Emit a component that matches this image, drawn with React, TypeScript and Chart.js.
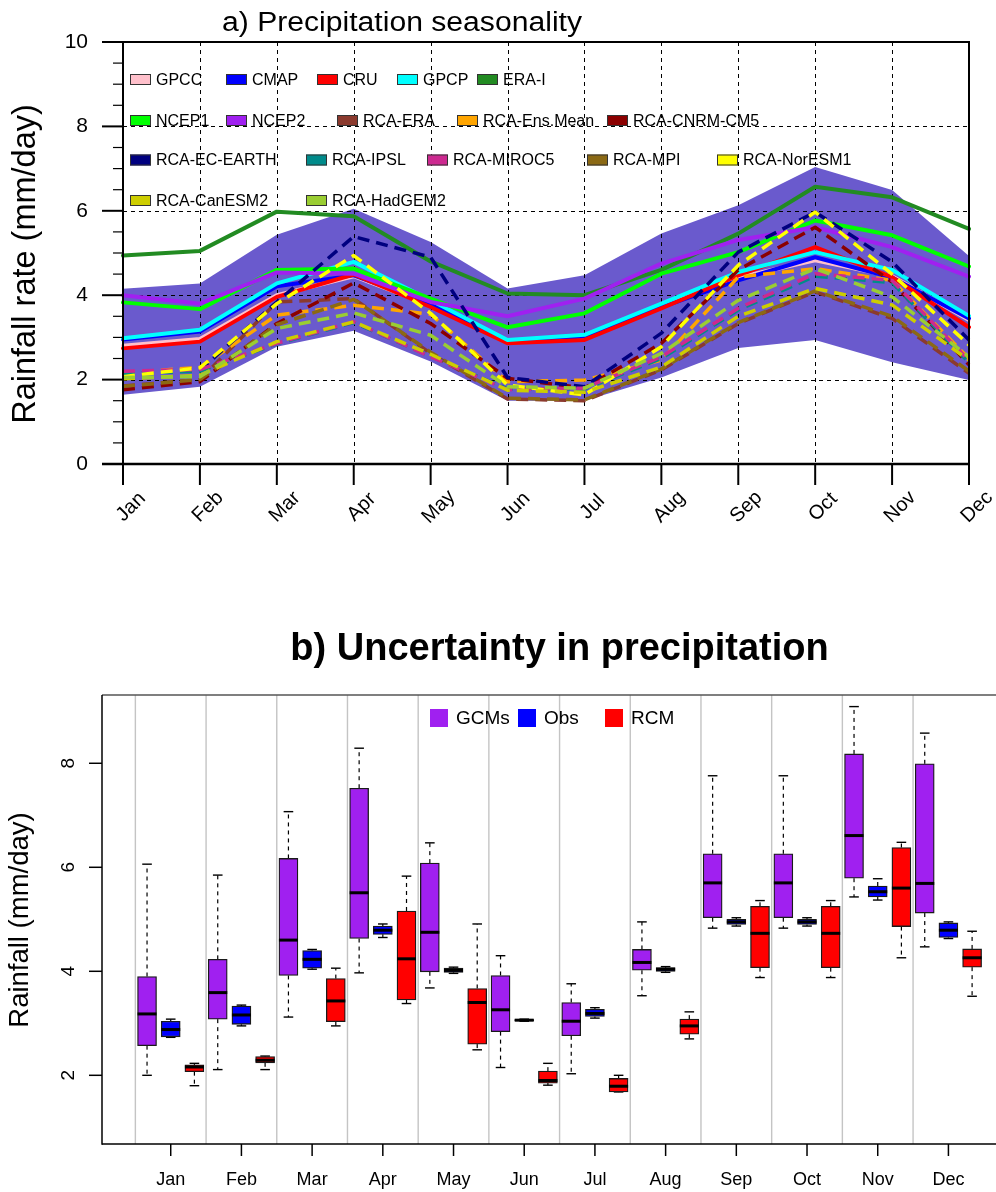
import React, { useEffect, useRef } from "react";
import { Chart, registerables } from "chart.js";

Chart.register(...registerables);

const FONT = '"Liberation Sans", Arial, Helvetica, sans-serif';

// ---------------- Panel a) data ----------------
const MONTHS = ["Jan", "Feb", "Mar", "Apr", "May", "Jun", "Jul", "Aug", "Sep", "Oct", "Nov", "Dec"];
const TOP_Y_TICKS = [0, 2, 4, 6, 8, 10];
const TOP_Y_GRID = [2, 4, 6, 8];

const ENSEMBLE_MAX = [4.15, 4.28, 5.43, 6.05, 5.26, 4.16, 4.47, 5.46, 6.13, 7.04, 6.49, 4.93];
const ENSEMBLE_MIN = [1.64, 1.83, 2.78, 3.16, 2.43, 1.5, 1.5, 2.05, 2.75, 2.94, 2.41, 1.99];

const GPCC = [2.8, 2.96, 4.0, 4.45, 3.76, 2.9, 2.98, 3.72, 4.42, 4.83, 4.45, 3.41];
const CMAP = [2.95, 3.14, 4.21, 4.47, 3.8, 2.92, 3.02, 3.72, 4.35, 4.9, 4.42, 3.45];
const CRU = [2.74, 2.9, 3.96, 4.49, 3.72, 2.86, 2.94, 3.69, 4.47, 5.14, 4.43, 3.24];
const GPCP = [2.98, 3.18, 4.28, 4.79, 3.88, 2.94, 3.06, 3.8, 4.55, 5.02, 4.6, 3.51];
const ERA_I = [4.94, 5.05, 5.98, 5.87, 4.8, 4.04, 4.0, 4.6, 5.46, 6.57, 6.32, 5.57];
const NCEP1 = [3.83, 3.67, 4.6, 4.63, 3.92, 3.24, 3.57, 4.51, 5.02, 5.77, 5.42, 4.68];
const NCEP2 = [4.0, 3.8, 4.54, 4.51, 3.84, 3.5, 3.92, 4.75, 5.31, 5.61, 5.14, 4.44];
const RCA_ERA = [1.85, 2.0, 3.84, 3.92, 2.62, 1.54, 1.5, 2.23, 3.33, 4.08, 3.45, 2.15];
const RCA_ENS_MEAN = [2.16, 2.29, 3.53, 3.76, 3.55, 1.95, 1.99, 2.46, 4.43, 4.63, 4.35, 2.5];
const RCA_CNRM_CM5 = [1.76, 1.95, 3.33, 4.29, 3.33, 2.03, 1.8, 2.86, 4.6, 5.61, 4.31, 2.35];
const RCA_EC_EARTH = [2.14, 2.22, 3.84, 5.39, 4.9, 2.05, 1.83, 3.1, 5.02, 5.97, 4.79, 2.94];
const RCA_IPSL = [2.15, 2.2, 2.85, 3.35, 2.55, 1.78, 1.78, 2.5, 3.65, 4.45, 4.3, 2.4];
const RCA_MIROC5 = [2.2, 2.24, 2.86, 3.37, 2.54, 1.76, 1.8, 2.54, 3.69, 4.51, 4.35, 2.45];
const RCA_MPI = [1.84, 2.0, 3.3, 3.9, 2.65, 1.56, 1.52, 2.25, 3.35, 4.1, 3.5, 2.2];
const RCA_NORESM1 = [2.07, 2.28, 3.8, 4.94, 3.57, 1.87, 1.64, 2.78, 4.71, 5.97, 4.5, 2.82];
const RCA_CANESM2 = [2.02, 2.1, 2.9, 3.37, 2.6, 1.75, 1.7, 2.3, 3.5, 4.16, 3.77, 2.46];
const RCA_HADGEM2 = [2.05, 2.07, 3.21, 3.58, 3.05, 1.83, 1.8, 2.62, 3.88, 4.63, 3.96, 2.54];

const TOP_SERIES = [
  { label: "GPCC", color: "#FFC0CB", values: GPCC, dashed: false },
  { label: "CMAP", color: "#0000FF", values: CMAP, dashed: false },
  { label: "CRU", color: "#FF0000", values: CRU, dashed: false },
  { label: "GPCP", color: "#00FFFF", values: GPCP, dashed: false },
  { label: "ERA-I", color: "#228B22", values: ERA_I, dashed: false },
  { label: "NCEP1", color: "#00FF00", values: NCEP1, dashed: false },
  { label: "NCEP2", color: "#A020F0", values: NCEP2, dashed: false },
  { label: "RCA-ERA", color: "#8B3A2E", values: RCA_ERA, dashed: true },
  { label: "RCA-Ens.Mean", color: "#FFA500", values: RCA_ENS_MEAN, dashed: true },
  { label: "RCA-CNRM-CM5", color: "#8B0000", values: RCA_CNRM_CM5, dashed: true },
  { label: "RCA-EC-EARTH", color: "#000080", values: RCA_EC_EARTH, dashed: true },
  { label: "RCA-IPSL", color: "#008B8B", values: RCA_IPSL, dashed: true },
  { label: "RCA-MIROC5", color: "#CD2990", values: RCA_MIROC5, dashed: true },
  { label: "RCA-MPI", color: "#8B6914", values: RCA_MPI, dashed: true },
  { label: "RCA-NorESM1", color: "#FFFF00", values: RCA_NORESM1, dashed: true },
  { label: "RCA-CanESM2", color: "#CDCD00", values: RCA_CANESM2, dashed: true },
  { label: "RCA-HadGEM2", color: "#9ACD32", values: RCA_HADGEM2, dashed: true },
];

// ---------------- Panel b) data ----------------
const BOX_Y_TICKS = [2, 4, 6, 8];

const GCM_MIN = [2.0, 2.11, 3.12, 3.97, 3.68, 2.15, 2.03, 3.53, 4.83, 4.83, 5.43, 4.47];
const GCM_Q1 = [2.57, 3.08, 3.92, 4.63, 3.99, 2.84, 2.76, 4.02, 5.03, 5.03, 5.79, 5.12];
const GCM_MED = [3.18, 3.59, 4.6, 5.51, 4.75, 3.26, 3.04, 4.17, 5.7, 5.7, 6.61, 5.69];
const GCM_Q3 = [3.9, 4.23, 6.17, 7.52, 6.08, 3.92, 3.4, 4.42, 6.26, 6.26, 8.18, 7.99];
const GCM_MAX = [6.06, 5.85, 7.07, 8.29, 6.47, 4.3, 3.76, 4.95, 7.76, 7.76, 9.09, 8.58];

const OBS_MIN = [2.73, 2.95, 4.04, 4.65, 3.96, 3.04, 3.1, 3.98, 4.87, 4.87, 5.37, 4.63];
const OBS_Q1 = [2.74, 2.98, 4.06, 4.71, 3.98, 3.05, 3.13, 4.0, 4.9, 4.9, 5.43, 4.65];
const OBS_MED = [2.88, 3.16, 4.23, 4.79, 4.02, 3.06, 3.19, 4.04, 4.95, 4.95, 5.53, 4.79];
const OBS_Q3 = [3.04, 3.33, 4.4, 4.87, 4.06, 3.07, 3.27, 4.07, 5.0, 5.0, 5.64, 4.93];
const OBS_MAX = [3.08, 3.35, 4.42, 4.91, 4.08, 3.08, 3.3, 4.09, 5.03, 5.03, 5.78, 4.95];

const RCM_MIN = [1.8, 2.11, 2.95, 3.38, 2.49, 1.81, 1.68, 2.7, 3.88, 3.88, 4.26, 3.52];
const RCM_Q1 = [2.07, 2.24, 3.03, 3.45, 2.6, 1.85, 1.68, 2.79, 4.07, 4.07, 4.86, 4.08];
const RCM_MED = [2.16, 2.29, 3.43, 4.24, 3.4, 1.9, 1.79, 2.95, 4.73, 4.73, 5.6, 4.26];
const RCM_Q3 = [2.2, 2.36, 3.86, 5.16, 3.67, 2.08, 1.94, 3.08, 5.25, 5.25, 6.38, 4.43];
const RCM_MAX = [2.23, 2.37, 4.06, 5.83, 4.91, 2.23, 2.0, 3.22, 5.36, 5.36, 6.48, 4.77];

const BOX_GROUPS = [
  { label: "GCMs", color: "#A020F0", offset: -0.335, min: GCM_MIN, q1: GCM_Q1, med: GCM_MED, q3: GCM_Q3, max: GCM_MAX },
  { label: "Obs", color: "#0000FF", offset: 0, min: OBS_MIN, q1: OBS_Q1, med: OBS_MED, q3: OBS_Q3, max: OBS_MAX },
  { label: "RCM", color: "#FF0000", offset: 0.335, min: RCM_MIN, q1: RCM_Q1, med: RCM_MED, q3: RCM_Q3, max: RCM_MAX },
];

// ---------------- layout (pixels) ----------------
const W = 996;
const TOP_H = 560;
const BOT_H = 632;
const TOP_LEGEND_X = [130, 226, 317, 397, 477, 130, 226, 337, 457, 607, 130, 306, 427, 587, 717, 130, 306];
const TOP_LEGEND_ROW = [0, 0, 0, 0, 0, 1, 1, 1, 1, 1, 2, 2, 2, 2, 2, 3, 3];
const TOP_LEGEND_ROW_Y = [79.5, 120.5, 160, 200.5];
const BOT_LEGEND_X = [430, 518, 605];
const BOX_W = 19;

function drawText(
  ctx: CanvasRenderingContext2D,
  str: string,
  x: number,
  y: number,
  o: { size: number; weight?: string; align?: CanvasTextAlign; baseline?: CanvasTextBaseline; rotate?: number; width?: number; color?: string }
) {
  ctx.save();
  ctx.font = `${o.weight || "normal"} ${o.size}px ${FONT}`;
  ctx.fillStyle = o.color || "#000";
  ctx.textAlign = o.align || "center";
  ctx.textBaseline = o.baseline || "alphabetic";
  ctx.translate(x, y);
  if (o.rotate) ctx.rotate(o.rotate);
  if (o.width) {
    const w = ctx.measureText(str).width;
    ctx.scale(o.width / w, 1);
  }
  ctx.fillText(str, 0, 0);
  ctx.restore();
}

function seg(ctx: CanvasRenderingContext2D, x1: number, y1: number, x2: number, y2: number) {
  ctx.beginPath();
  ctx.moveTo(x1, y1);
  ctx.lineTo(x2, y2);
  ctx.stroke();
}

const topDecor = {
  id: "topDecor",
  beforeDatasetsDraw(chart: any) {
    const { ctx, chartArea: ca, scales } = chart;
    const x = scales.x;
    const y = scales.y;
    ctx.save();
    ctx.strokeStyle = "#000";
    ctx.lineWidth = 1;
    ctx.setLineDash([4, 4]);
    for (let i = 1; i < MONTHS.length - 1; i++) {
      const px = Math.round(x.getPixelForValue(i)) + 0.5;
      seg(ctx, px, ca.top, px, ca.bottom);
    }
    for (const v of TOP_Y_GRID) {
      const py = Math.round(y.getPixelForValue(v)) + 0.5;
      seg(ctx, ca.left, py, ca.right, py);
    }
    ctx.restore();
  },
  afterDraw(chart: any) {
    const { ctx, chartArea: ca, scales } = chart;
    const x = scales.x;
    const y = scales.y;
    ctx.save();
    ctx.strokeStyle = "#000";
    ctx.setLineDash([]);
    // frame
    ctx.lineWidth = 2;
    seg(ctx, ca.left, ca.top, ca.right + 1, ca.top);
    seg(ctx, ca.right, ca.top, ca.right, ca.bottom);
    seg(ctx, ca.left, ca.top, ca.left, ca.bottom);
    ctx.lineWidth = 2.5;
    seg(ctx, ca.left - 21, ca.bottom, ca.right + 1, ca.bottom);
    // y ticks
    ctx.lineWidth = 2;
    for (const v of TOP_Y_TICKS) {
      const py = y.getPixelForValue(v);
      seg(ctx, ca.left - 21, py, ca.left, py);
      drawText(ctx, String(v), ca.left - 35, py, { size: 21, align: "right", baseline: "middle" });
    }
    ctx.lineWidth = 1.2;
    const ymax = TOP_Y_TICKS[TOP_Y_TICKS.length - 1];
    for (let v = 0.5; v < ymax; v += 0.5) {
      if (v % 2 === 0) continue;
      const py = y.getPixelForValue(v);
      seg(ctx, ca.left - 10, py, ca.left, py);
    }
    // x ticks & labels
    ctx.lineWidth = 2;
    MONTHS.forEach((m, i) => {
      const px = x.getPixelForValue(i);
      seg(ctx, px, ca.bottom, px, ca.bottom + 21);
      drawText(ctx, m, px + 8, ca.bottom + 43, { size: 20, baseline: "middle", rotate: -Math.PI / 4 });
    });
    // legend
    TOP_SERIES.forEach((s, i) => {
      const lx = TOP_LEGEND_X[i];
      const ly = TOP_LEGEND_ROW_Y[TOP_LEGEND_ROW[i]];
      ctx.fillStyle = s.color;
      ctx.fillRect(lx, ly - 5.5, 21, 11);
      ctx.lineWidth = 1;
      ctx.strokeStyle = "#333";
      ctx.strokeRect(lx + 0.5, ly - 5.5 + 0.5, 20, 10);
      drawText(ctx, s.label, lx + 26, ly + 1, { size: 16, align: "left", baseline: "middle" });
    });
    // title and axis title
    drawText(ctx, "a) Precipitation seasonality", 402, 31, { size: 27, width: 360 });
    drawText(ctx, "Rainfall rate (mm/day)", 35, 264, { size: 32.5, rotate: -Math.PI / 2 });
    ctx.restore();
  },
};

const bottomDecor = {
  id: "bottomDecor",
  beforeDatasetsDraw(chart: any) {
    const { ctx, chartArea: ca, scales } = chart;
    const x = scales.x;
    const y = scales.y;
    ctx.save();
    // grey separators between months
    ctx.strokeStyle = "#C4C4C4";
    ctx.lineWidth = 1.4;
    for (let i = 0; i < MONTHS.length; i++) {
      const px = x.getPixelForValue(i + 0.5);
      seg(ctx, px, ca.top, px, ca.bottom);
    }
    // whiskers
    ctx.strokeStyle = "#000";
    BOX_GROUPS.forEach((g) => {
      MONTHS.forEach((_, i) => {
        const cx = x.getPixelForValue(i + 1 + g.offset);
        const yMax = y.getPixelForValue(g.max[i]);
        const yMin = y.getPixelForValue(g.min[i]);
        const yQ3 = y.getPixelForValue(g.q3[i]);
        const yQ1 = y.getPixelForValue(g.q1[i]);
        ctx.lineWidth = 1.2;
        ctx.setLineDash([4, 4]);
        seg(ctx, cx, yQ3, cx, yMax);
        seg(ctx, cx, yQ1, cx, yMin);
        ctx.setLineDash([]);
        ctx.lineWidth = 1.4;
        seg(ctx, cx - 4.8, yMax, cx + 4.8, yMax);
        seg(ctx, cx - 4.8, yMin, cx + 4.8, yMin);
      });
    });
    ctx.restore();
  },
  afterDatasetsDraw(chart: any) {
    const { ctx, scales } = chart;
    const x = scales.x;
    const y = scales.y;
    ctx.save();
    ctx.strokeStyle = "#000";
    ctx.lineWidth = 3;
    BOX_GROUPS.forEach((g) => {
      MONTHS.forEach((_, i) => {
        const cx = x.getPixelForValue(i + 1 + g.offset);
        const py = y.getPixelForValue(g.med[i]);
        seg(ctx, cx - BOX_W / 2, py, cx + BOX_W / 2, py);
      });
    });
    ctx.restore();
  },
  afterDraw(chart: any) {
    const { ctx, chartArea: ca, scales } = chart;
    const x = scales.x;
    const y = scales.y;
    ctx.save();
    ctx.strokeStyle = "#555";
    ctx.lineWidth = 1.5;
    seg(ctx, ca.left, ca.top, ca.right, ca.top);
    ctx.strokeStyle = "#000";
    seg(ctx, ca.left, ca.top, ca.left, ca.bottom + 0.75);
    seg(ctx, ca.left, ca.bottom, ca.right, ca.bottom);
    // y ticks
    for (const v of BOX_Y_TICKS) {
      const py = y.getPixelForValue(v);
      seg(ctx, ca.left - 13, py, ca.left, py);
      drawText(ctx, String(v), 74, py, { size: 19, rotate: -Math.PI / 2 });
    }
    // x ticks
    MONTHS.forEach((m, i) => {
      const px = x.getPixelForValue(i + 1);
      seg(ctx, px, ca.bottom, px, ca.bottom + 12);
      drawText(ctx, m, px, 625, { size: 18 });
    });
    // legend
    BOX_GROUPS.forEach((g, i) => {
      const lx = BOT_LEGEND_X[i];
      ctx.fillStyle = g.color;
      ctx.fillRect(lx, 149, 18, 18);
      drawText(ctx, g.label, lx + 26, 158.5, { size: 19, align: "left", baseline: "middle" });
    });
    drawText(ctx, "b) Uncertainty in precipitation", 559.5, 100, { size: 38, weight: "bold" });
    drawText(ctx, "Rainfall (mm/day)", 27.5, 360, { size: 27.5, rotate: -Math.PI / 2 });
    ctx.restore();
  },
};

function topConfig(): any {
  const datasets: any[] = [
    {
      label: "ensemble-max",
      data: ENSEMBLE_MAX,
      borderWidth: 0,
      pointRadius: 0,
      fill: "+1",
      backgroundColor: "#6A5ACD",
      order: 1000,
    },
    {
      label: "ensemble-min",
      data: ENSEMBLE_MIN,
      borderWidth: 0,
      pointRadius: 0,
      fill: false,
      order: 999,
    },
  ];
  TOP_SERIES.forEach((s, i) => {
    datasets.push({
      label: s.label,
      data: s.values,
      borderColor: s.color,
      backgroundColor: s.color,
      borderWidth: s.dashed ? 3.5 : 4,
      borderDash: s.dashed ? [12, 7] : [],
      borderCapStyle: s.dashed ? "butt" : "round",
      borderJoinStyle: "round",
      pointRadius: 0,
      fill: false,
      tension: 0,
      order: 500 - i,
    });
  });
  return {
    type: "line",
    data: { labels: MONTHS, datasets },
    options: {
      responsive: false,
      animation: false,
      events: [],
      devicePixelRatio: 1,
      layout: { padding: { left: 123, top: 42, right: W - 969, bottom: TOP_H - 464 } },
      scales: {
        x: { type: "category", offset: false, display: false },
        y: { type: "linear", min: 0, max: 10, display: false },
      },
      plugins: {
        legend: { display: false },
        tooltip: { enabled: false },
        title: { display: false },
        filler: { drawTime: "beforeDatasetsDraw" },
      },
    },
    plugins: [topDecor],
  };
}

function bottomConfig(): any {
  return {
    type: "bar",
    data: {
      datasets: BOX_GROUPS.map((g) => ({
        label: g.label,
        data: MONTHS.map((_, i) => ({ x: i + 1 + g.offset, y: [g.q1[i], g.q3[i]] })),
        backgroundColor: g.color,
        borderColor: "#1a1a1a",
        borderWidth: 1.3,
        borderSkipped: false,
        barThickness: BOX_W,
        grouped: false,
      })),
    },
    options: {
      responsive: false,
      animation: false,
      events: [],
      devicePixelRatio: 1,
      layout: { padding: { left: 102, top: 135, right: 0, bottom: 48 } },
      scales: {
        x: { type: "linear", min: 0.028, max: 12.673, offset: false, display: false },
        y: { type: "linear", min: 0.679, max: 9.313, beginAtZero: false, display: false },
      },
      plugins: {
        legend: { display: false },
        tooltip: { enabled: false },
        title: { display: false },
      },
    },
    plugins: [bottomDecor],
  };
}

export default function App() {
  const topRef = useRef<HTMLCanvasElement>(null);
  const botRef = useRef<HTMLCanvasElement>(null);
  useEffect(() => {
    const c1 = new Chart(topRef.current as HTMLCanvasElement, topConfig());
    const c2 = new Chart(botRef.current as HTMLCanvasElement, bottomConfig());
    return () => {
      c1.destroy();
      c2.destroy();
    };
  }, []);
  return (
    <div style={{ position: "absolute", left: 0, top: 0, width: W, height: TOP_H + BOT_H, background: "#fff", overflow: "hidden" }}>
      <canvas ref={topRef} width={W} height={TOP_H} style={{ position: "absolute", left: 0, top: 0, width: W, height: TOP_H }} />
      <canvas ref={botRef} width={W} height={BOT_H} style={{ position: "absolute", left: 0, top: TOP_H, width: W, height: BOT_H }} />
    </div>
  );
}
